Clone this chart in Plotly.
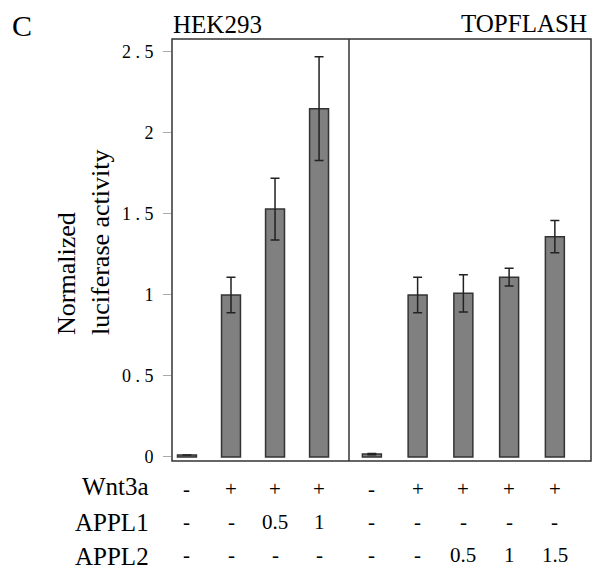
import plotly.graph_objects as go

# ---- data ----
left_pos = [0, 1, 2, 3]
left_vals = [0.012, 1.00, 1.53, 2.15]
left_err = [0.0, 0.11, 0.19, 0.32]
right_pos = [0, 1, 2, 3, 4]
right_vals = [0.018, 1.00, 1.01, 1.11, 1.36]
right_err = [0.004, 0.11, 0.115, 0.055, 0.10]

left_wnt3a = ["-", "+", "+", "+"]
left_appl1 = ["-", "-", "0.5", "1"]
left_appl2 = ["-", "-", "-", "-"]
right_wnt3a = ["-", "+", "+", "+", "+"]
right_appl1 = ["-", "-", "-", "-", "-"]
right_appl2 = ["-", "-", "0.5", "1", "1.5"]
row_labels = ["Wnt3a", "APPL1", "APPL2"]

y_tickvals = [0, 0.5, 1, 1.5, 2, 2.5]
y_ticktext = ["0", "0 . 5", "1", "1 . 5", "2", "2 . 5"]

panel_titles = ["HEK293", "TOPFLASH"]
y_title = "Normalized<br>luciferase activity"

FONT = "Liberation Serif, Times New Roman, serif"
BAR_FILL = "#808080"
EDGE = "#333333"

fig = go.Figure()
err_style = dict(type="data", visible=True, color="#222222", thickness=1.5, width=4.5)
fig.add_trace(go.Bar(x=left_pos, y=left_vals, width=0.43,
                     marker=dict(color=BAR_FILL, line=dict(color=EDGE, width=1.5)),
                     error_y=dict(array=left_err, **err_style),
                     xaxis="x", yaxis="y", showlegend=False))
fig.add_trace(go.Bar(x=right_pos, y=right_vals, width=0.415,
                     marker=dict(color=BAR_FILL, line=dict(color=EDGE, width=1.5)),
                     error_y=dict(array=right_err, **err_style),
                     xaxis="x2", yaxis="y", showlegend=False))

split = 177 / 419
fig.update_layout(
    width=592, height=567,
    margin=dict(l=172, r=1, t=39, b=106),
    paper_bgcolor="white", plot_bgcolor="white",
    font=dict(family=FONT, color="black"),
    xaxis=dict(domain=[0, split], range=[-0.34, 3.68], showticklabels=False,
               ticks="", showgrid=False, zeroline=False, anchor="y"),
    xaxis2=dict(domain=[split, 1], range=[-0.50, 4.79], showticklabels=False,
                ticks="", showgrid=False, zeroline=False, anchor="y"),
    yaxis=dict(range=[-0.025, 2.58], tickvals=y_tickvals, ticktext=y_ticktext,
               ticks="outside", ticklen=8, tickcolor="#aaaaaa", tickwidth=1,
               showgrid=False, zeroline=False, showline=False,
               tickfont=dict(size=18, family=FONT, color="black"),
               ticklabelstandoff=6, anchor="x"),
)

# frame and divider
fig.add_shape(type="rect", xref="paper", yref="paper", x0=0, x1=1, y0=0, y1=1,
              line=dict(color=EDGE, width=1.5), layer="above")
fig.add_shape(type="line", xref="paper", yref="paper", x0=split, x1=split, y0=0, y1=1,
              line=dict(color=EDGE, width=1.5), layer="above")

ann = []
ann.append(dict(text="C", xref="paper", yref="paper", x=0, y=1, xshift=-150, yshift=14,
                xanchor="center", yanchor="middle", showarrow=False,
                font=dict(size=30, family=FONT)))
ann.append(dict(text=panel_titles[0], xref="paper", yref="paper", x=0, y=1, xshift=-1, yshift=15,
                xanchor="left", yanchor="middle", showarrow=False,
                font=dict(size=25, family=FONT)))
ann.append(dict(text=panel_titles[1], xref="paper", yref="paper", x=1, y=1, xshift=-2, yshift=16,
                xanchor="right", yanchor="middle", showarrow=False,
                font=dict(size=25, family=FONT)))
ann.append(dict(text=y_title, xref="paper", yref="paper", x=0, y=(461 - 242) / 422, xshift=-89,
                xanchor="center", yanchor="middle", textangle=-90, align="left", showarrow=False,
                font=dict(size=26, family=FONT)))

row_shifts = [-28, -61, -94]
label_shifts = [-25, -61, -95]
for lbl, ys in zip(row_labels, label_shifts):
    ann.append(dict(text=lbl, xref="paper", yref="paper", x=0, y=0, xshift=-21, yshift=ys,
                    xanchor="right", yanchor="middle", showarrow=False,
                    font=dict(size=25, family=FONT)))

for xr, pos, rows in [("x", left_pos, [left_wnt3a, left_appl1, left_appl2]),
                      ("x2", right_pos, [right_wnt3a, right_appl1, right_appl2])]:
    for row, ys in zip(rows, row_shifts):
        for p, t in zip(pos, row):
            ann.append(dict(text=t, xref=xr, yref="paper", x=p, y=0, yshift=ys,
                            xanchor="center", yanchor="middle", showarrow=False,
                            font=dict(size=21, family=FONT)))

fig.update_layout(annotations=ann)
fig.write_html("out.html", config={"displayModeBar": False},
               post_script="document.body.style.margin='0';")
